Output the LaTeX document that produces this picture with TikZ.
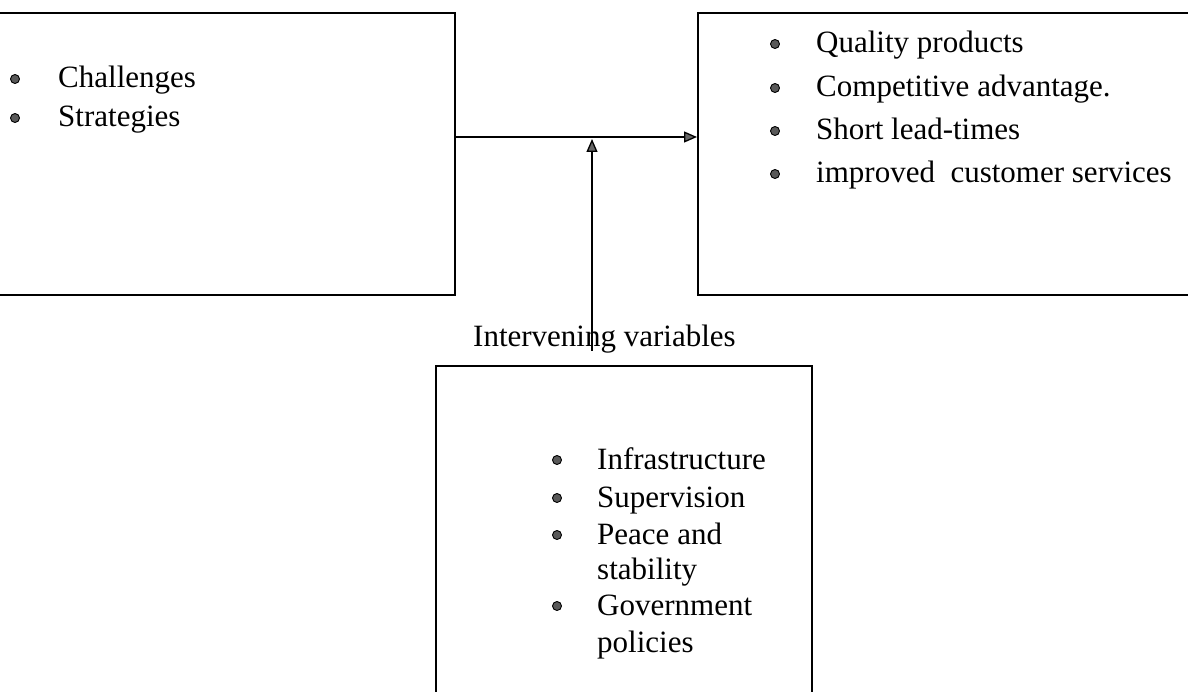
\documentclass[tikz,border=0pt]{standalone}
\usepackage{fontspec}
\setmainfont{Liberation Serif}
\usetikzlibrary{arrows.meta}
\begin{document}
\begin{tikzpicture}[x=1pt,y=-1pt,
  box/.style={draw, line width=1.6pt, inner sep=0pt, anchor=north west},
  item/.style={font=\fontsize{31}{36}\selectfont, inner sep=0pt, anchor=base west},
  bullet/.style={fill=black!65, draw=black, line width=0.9pt},
  arr/.style={line width=1.3pt, -{Triangle[length=13pt,width=11pt,fill=black!60]}}]
\useasboundingbox (0,0) rectangle (1188,692);
\clip (0,0) rectangle (1188,692);
% boxes
\node[box, minimum width=474, minimum height=282] (L) at (-20,12) {};
\node[box, minimum width=520, minimum height=282] (R) at (697,12) {};
\node[box, minimum width=376, minimum height=360] (B) at (435,365) {};
% left items
\node[item] (l1) at (58,88) {Challenges};
\node[item] (l2) at (58,127) {Strategies};
\draw[bullet] (15,79) circle (4.5);
\draw[bullet] (15,118) circle (4.5);
% right items
\node[item] (r1) at (816,53) {Quality products};
\node[item] (r2) at (816,97) {Competitive advantage.};
\node[item] (r3) at (816,140) {Short lead-times};
\node[item] (r4) at (816,183) {improved\ \ customer services};
\foreach \y in {44,88,131,174} \draw[bullet] (775,\y) circle (4.5);
% bottom items
\node[item] (b1) at (597,469) {Infrastructure};
\node[item] (b2) at (597,507) {Supervision};
\node[item] (b3) at (597,544) {Peace and};
\node[item] (b4) at (597,579) {stability};
\node[item] (b5) at (597,615) {Government};
\node[item] (b6) at (597,652) {policies};
\foreach \y in {460,498,535,606} \draw[bullet] (557,\y) circle (4.5);
% label
\node[item] (iv) at (473,347) {Intervening variables};
% connectors
\coordinate (hy) at (0,137);
\draw[arr] (L.east |- hy) -- (R.west |- hy);
\coordinate (vb) at (592,351);
\coordinate (vt) at (592,139);
\draw[arr] (vb) -- (vt);
\end{tikzpicture}
\end{document}
